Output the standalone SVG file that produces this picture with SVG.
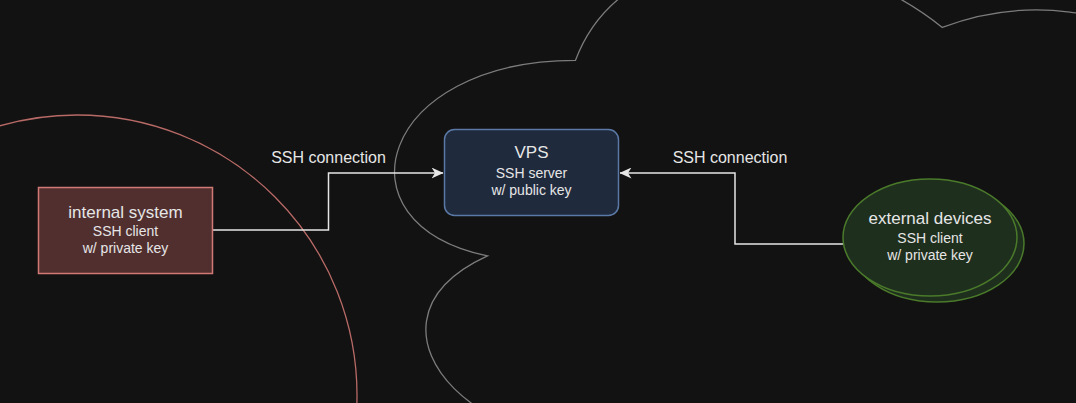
<svg xmlns="http://www.w3.org/2000/svg" width="1076" height="403" viewBox="0 0 1076 403">
<defs>
<style>
text{font-family:"Liberation Sans",Arial,sans-serif;fill:#e6e6e6;text-anchor:middle}
.t{font-size:17px}
.s{font-size:14px}
.lbl{font-size:16px}
.edge{fill:none;stroke:#e6e6e6;stroke-width:1.5}
</style>
<marker id="arr" viewBox="0 0 12 11" refX="11.5" refY="5.5" markerWidth="12" markerHeight="11" markerUnits="userSpaceOnUse" orient="auto">
<path d="M0,0 L12,5.5 L0,11 L3.5,5.5 Z" fill="#e6e6e6"/>
</marker>
</defs>
<rect width="1076" height="403" fill="#121212"/>
<g id="cloud">
<path d="M575.5,60.3 C379.9,60.3 331,223.3 487.5,255.9 C331,327.7 507,484.4 634.2,419.1 C722.2,549.7 1015.6,549.7 1113.4,419.1 C1309,419.1 1309,321.2 1186.8,223.3 C1309,92.7 1113.4,-37.9 942.3,27.4 C820,-70.5 624.4,-70.5 575.5,60.3 Z" fill="none" stroke="#7c7c7c" stroke-width="1.3"/>
</g>
<g id="internal-zone">
<circle cx="77" cy="395" r="280" fill="none" stroke="#b86a66" stroke-width="1.3"/>
</g>
<g id="connectors">
<path class="edge" d="M213,230 H328.5 V173 H443" marker-end="url(#arr)"/>
<path class="edge" d="M843,244 H735 V173 H620" marker-end="url(#arr)"/>
<text class="lbl" x="328.5" y="163">SSH connection</text>
<text class="lbl" x="730" y="163">SSH connection</text>
</g>
<g id="internal-system">
<rect x="38.5" y="187.5" width="174" height="86" fill="#512f2f" stroke="#d17a75" stroke-width="1.5"/>
<text class="t" x="125.5" y="218">internal system</text>
<text class="s" x="125.5" y="236">SSH client</text>
<text class="s" x="125.5" y="253">w/ private key</text>
</g>
<g id="vps">
<rect x="444.5" y="129.5" width="174" height="86" rx="10" fill="#1f2a3d" stroke="#5b79a6" stroke-width="1.5"/>
<text class="t" x="531.5" y="158">VPS</text>
<text class="s" x="531.5" y="178">SSH server</text>
<text class="s" x="531.5" y="195">w/ public key</text>
</g>
<g id="external-devices">
<ellipse cx="937" cy="243.5" rx="87" ry="58.5" fill="#1f2f1e" stroke="#4a7a2a" stroke-width="1.5"/>
<ellipse cx="930" cy="237.5" rx="87" ry="58.5" fill="#1f2f1e" stroke="#4a7a2a" stroke-width="1.5"/>
<text class="t" x="930" y="224">external devices</text>
<text class="s" x="930" y="243">SSH client</text>
<text class="s" x="930" y="260">w/ private key</text>
</g>
</svg>
